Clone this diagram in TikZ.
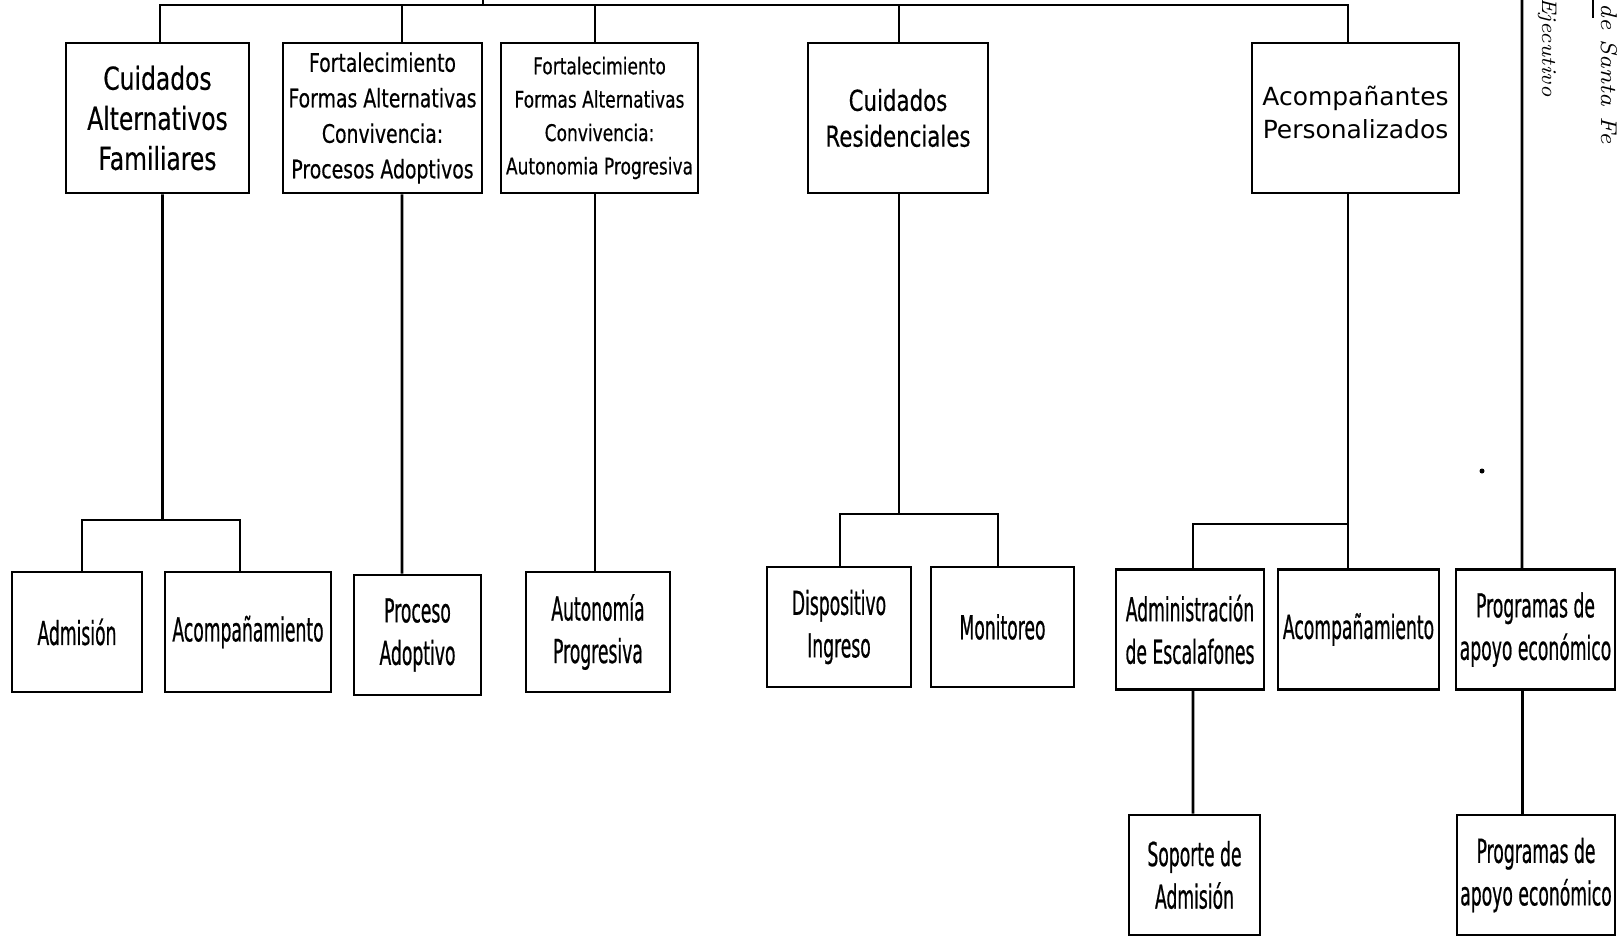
\documentclass[tikz,border=0pt]{standalone}
\usepackage{fontspec}
\usepackage{tikz}
\usetikzlibrary{calc}
\newfontfamily\condfont[FakeStretch=0.74, FakeBold=0.4]{DejaVu Sans}
\newfontfamily\narrowfont[FakeStretch=0.52, FakeBold=0.6]{DejaVu Sans}
\newfontfamily\plainfont{DejaVu Sans}
\newcommand{\thickness}{0.8pt}
\newcommand{\boxh}{15mm}
\newcommand{\rowh}{12mm}
\newcommand{\rowfont}{\narrowfont\fontsize{9.4}{12.1}\selectfont}

\begin{document}
\begin{tikzpicture}[x=0.1mm, y=-0.1mm,
  box/.style={draw, line width=\thickness, inner sep=0pt, align=center},
  low/.style={box, minimum height=\rowh, font=\rowfont},
  link/.style={line width=\thickness}]
\useasboundingbox (0,0) rectangle (1623,937);
%top
\node[box, minimum width=18.3mm, minimum height=\boxh, font={\condfont\fontsize{9}{11.4}\selectfont}] (1) at (157.5,118) {Cuidados\\Alternativos\\Familiares};
\node[box, minimum width=19.9mm, minimum height=\boxh, font={\condfont\fontsize{7.25}{10.1}\selectfont}] (2) at (382.5,118) {Fortalecimiento\\Formas Alternativas\\Convivencia:\\Procesos Adoptivos};
\node[box, minimum width=19.7mm, minimum height=\boxh, font={\condfont\fontsize{6.55}{9.5}\selectfont}] (3) at (599.5,118) {Fortalecimiento\\Formas Alternativas\\Convivencia:\\Autonomia Progresiva};
\node[box, minimum width=18mm, minimum height=\boxh, font={\condfont\fontsize{8.2}{10.2}\selectfont}] (4) at (898,118) {Cuidados\\Residenciales};
\node[box, minimum width=20.7mm, minimum height=\boxh, font={\plainfont\fontsize{7.1}{9.4}\selectfont}] (5) at (1355.5,118) {Acompañantes\\Personalizados\\[-2.2mm]};
%bottom
\node[low, minimum width=13mm] (6) at (77,632) {Admisión};
\node[low, minimum width=16.6mm] (7) at (248,632) {Acompañamiento};
\node[low, minimum width=12.7mm] (8) at (417.5,635) {Proceso\\Adoptivo};
\node[low, minimum width=14.4mm] (9) at (598,632) {Autonomía\\Progresiva};
\node[low, minimum width=14.4mm] (10) at (839,627) {Dispositivo\\Ingreso};
\node[low, minimum width=14.3mm] (11) at (1002.5,627) {Monitoreo};
\node[low, minimum width=14.8mm] (12) at (1190,629.5) {Administración\\de Escalafones};
\node[low, minimum width=16.1mm] (13) at (1358.5,629.5) {Acompañamiento};
\node[low, minimum width=15.9mm] (14) at (1535.5,629.5) {Programas de\\apoyo económico};
\node[low, minimum width=13.1mm] (15) at (1194.5,875) {Soporte de\\Admisión};
\node[low, minimum width=15.8mm] (16) at (1536,875) {Programas de\\apoyo económico};
%joints
\coordinate (0) at (483,5);
\coordinate (t) at (483,0);
\coordinate (r) at (1522,0);
\coordinate (a) at (162.5,520);
\coordinate (b) at (899,514);
\coordinate (c) at (1348,524);
%root
\draw[link] (t) -- (0);
\draw[link] ([xshift=0.25mm]1.north) |- (0) -| ([xshift=-0.75mm]5.north);
\draw[link] ([xshift=1.95mm]2.north) |- (0);
\draw[link] ([xshift=-0.45mm]3.north) |- (0);
\draw[link] ([xshift=0.1mm]4.north) |- (0);
\draw[link] (r) -- ([xshift=-1.35mm]14.north);
%1
\draw[link] ([xshift=0.5mm]1.south) -- (a);
\draw[link] ([xshift=0.5mm]6.north) |- (a) -| ([xshift=-0.8mm]7.north);
%2
\draw[link] ([xshift=1.95mm]2.south) -- ([xshift=-1.55mm]8.north);
%3
\draw[link] ([xshift=-0.45mm]3.south) -- ([xshift=-0.3mm]9.north);
%4
\draw[link] ([xshift=0.1mm]4.south) -- (b);
\draw[link] ([xshift=0.1mm]10.north) |- (b) -| ([xshift=-0.45mm]11.north);
%5
\draw[link] ([xshift=-0.75mm]5.south) -- ([xshift=-1.05mm]13.north);
\draw[link] ([xshift=0.3mm]12.north) |- (c);
\draw[link] ([xshift=0.3mm]12.south) -- ([xshift=-0.15mm]15.north);
\draw[link] ([xshift=-1.3mm]14.south) -- ([xshift=-1.35mm]16.north);
%stamp
\node[rotate=-90, inner sep=0pt, font=\itshape\fontsize{6}{7}\selectfont] (e) at (1547,47) {Ejecutivo};
\draw[line width=0.6pt] (1593,0) -- (1593,18);
\node[rotate=-90, anchor=south west, inner sep=0pt, font=\itshape\fontsize{6.5}{7}\selectfont] (f) at (1600,3) {de Santa Fe};
\fill (1482,471) circle (0.25mm);
\end{tikzpicture}
\end{document}
